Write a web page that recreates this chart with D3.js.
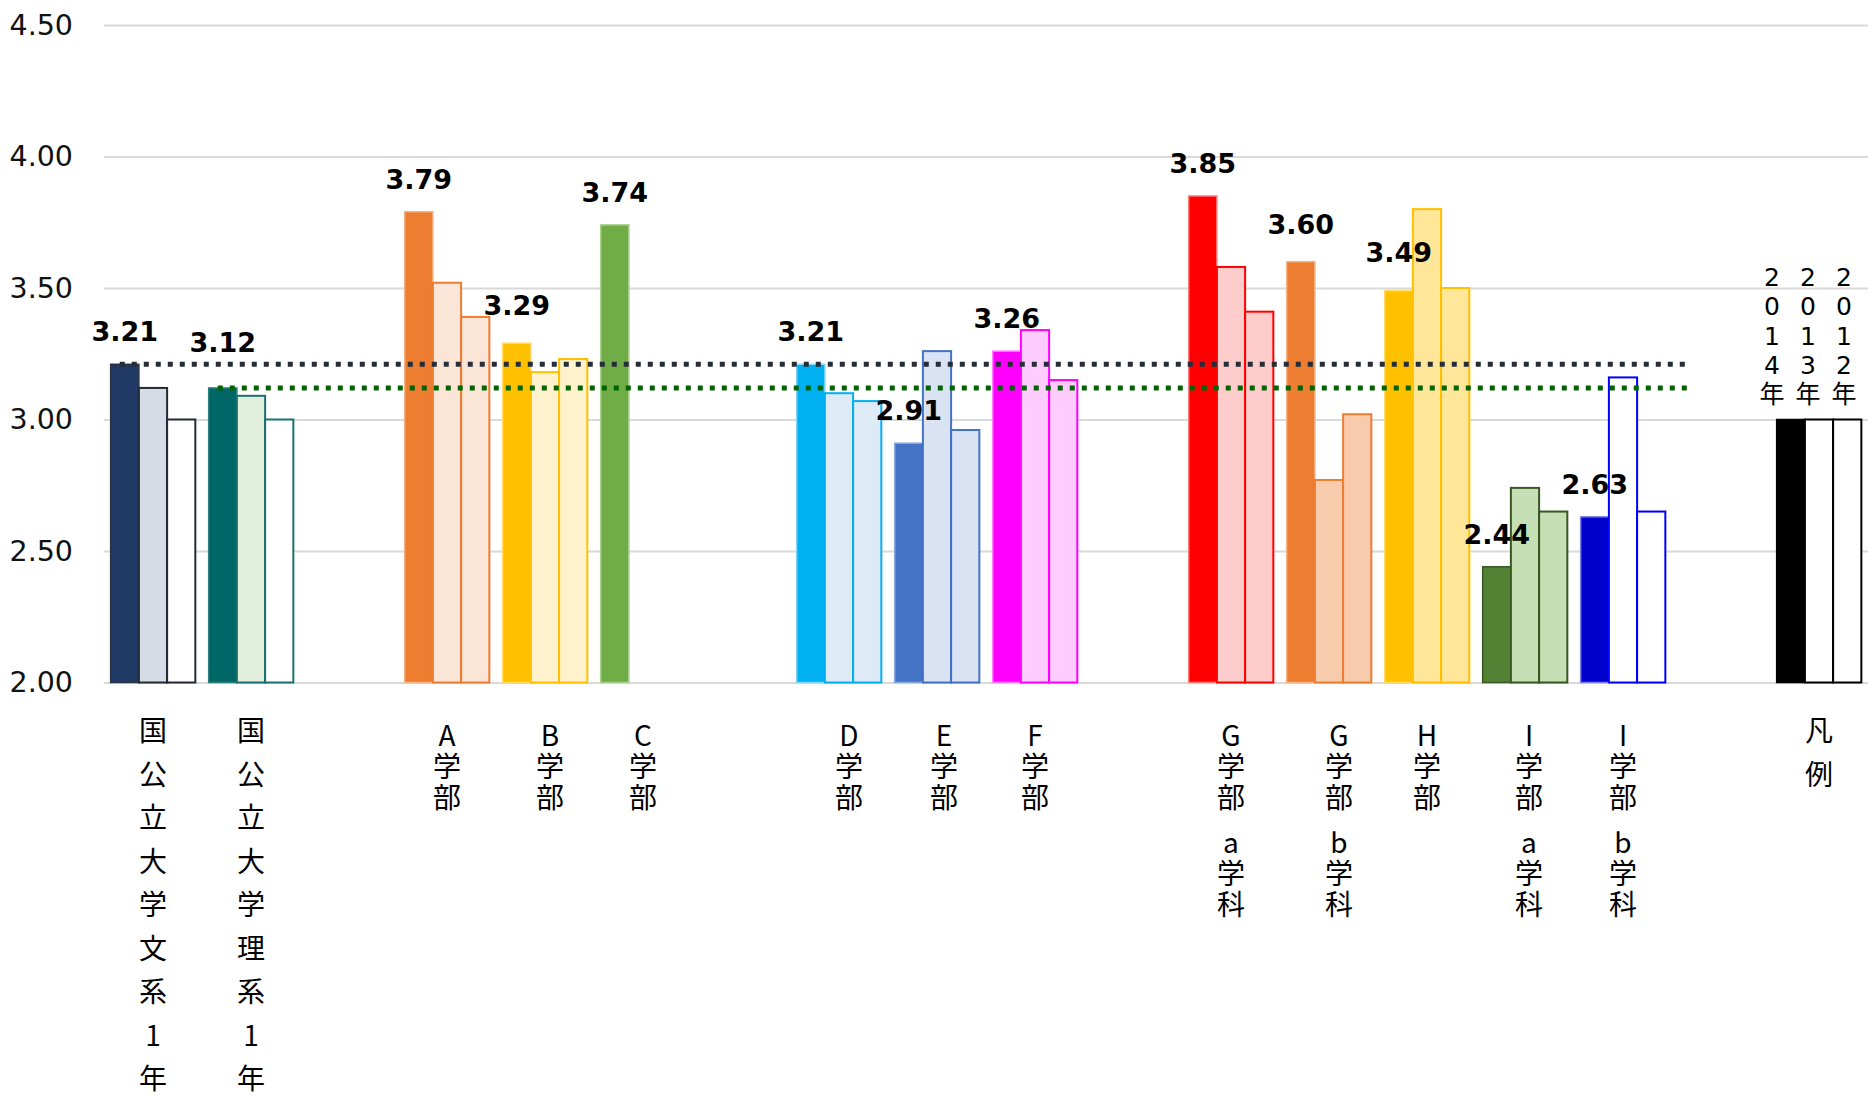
<!DOCTYPE html>
<html lang="ja">
<head>
<meta charset="utf-8">
<script src="https://cdn.jsdelivr.net/npm/d3@7"></script>
<style>
  html, body { margin: 0; padding: 0; background: #ffffff; }
  svg { display: block; }
</style>
</head>
<body>
<svg id="chart" width="1874" height="1102"></svg>
<script>
// Faculty categories along the x axis ("" = spacer slot between blocks)
const categories = [
  "国公立大学文系1年", "国公立大学理系1年", "",
  "A学部", "B学部", "C学部", "",
  "D学部", "E学部", "F学部", "",
  "G学部\na学科", "G学部\nb学科", "H学部", "I学部\na学科", "I学部\nb学科", "",
  "凡例"
];

// Yearly scores per category (null = no bar)
const scores2014 = [3.21, 3.12, null, 3.79, 3.29, 3.74, null, 3.21, 2.91, 3.26, null, 3.85, 3.60, 3.49, 2.44, 2.63, null, 3.00];
const scores2013 = [3.12, 3.09, null, 3.52, 3.18, null, null, 3.10, 3.26, 3.34, null, 3.58, 2.77, 3.80, 2.74, 3.16, null, 3.00];
const scores2012 = [3.00, 3.00, null, 3.39, 3.23, null, null, 3.07, 2.96, 3.15, null, 3.41, 3.02, 3.50, 2.65, 2.65, null, 3.00];

const seriesYears = ["2014年", "2013年", "2012年"];
const yTicks = [2.00, 2.50, 3.00, 3.50, 4.00, 4.50];

// Colour scheme per category: fills for 2014 / 2013 / 2012 and outline colours
const palette = [
  { fill: ["#1F3864", "#D6DCE5", "#FFFFFF"], line: "#222A35", edge: "#2B3445" },
  { fill: ["#006666", "#E2EFDA", "#FFFFFF"], line: "#1B7070", edge: "#2E8080" },
  null,
  { fill: ["#ED7D31", "#FBE5D6", "#FBE5D6"], line: "#ED7D31", edge: "#F4B183" },
  { fill: ["#FFC000", "#FFF2CC", "#FFF2CC"], line: "#FFC000", edge: "#FFD966" },
  { fill: ["#70AD47", null, null], line: "#70AD47", edge: "#A9D18E" },
  null,
  { fill: ["#00B0F0", "#DEEBF7", "#DEEBF7"], line: "#00B0F0", edge: "#7FD7F7" },
  { fill: ["#4472C4", "#DAE3F3", "#DAE3F3"], line: "#4472C4", edge: "#8FAADC" },
  { fill: ["#FF00FF", "#FFCCFF", "#FFCCFF"], line: "#FF00FF", edge: "#FF7FFF" },
  null,
  { fill: ["#FF0000", "#FFCCCC", "#FFCCCC"], line: "#FF0000", edge: "#FF7F7F" },
  { fill: ["#ED7D31", "#F8CBAD", "#F8CBAD"], line: "#ED7D31", edge: "#F4B183" },
  { fill: ["#FFC000", "#FFE699", "#FFE699"], line: "#FFC000", edge: "#FFD966" },
  { fill: ["#548235", "#C5E0B4", "#C5E0B4"], line: "#385723", edge: "#385723" },
  { fill: ["#0000CC", "#FFFFFF", "#FFFFFF"], line: "#0000FF", edge: "#7F7FE5" },
  null,
  { fill: ["#000000", "#FFFFFF", "#FFFFFF"], line: "#000000", edge: "#000000" }
];

const svg = d3.select("#chart");
const plot = { left: 104, right: 1868, top: 25, bottom: 682.5 };

const x0 = d3.scaleBand()
  .domain(d3.range(categories.length))
  .range([plot.left, plot.right])
  .paddingInner(0).paddingOuter(0);

const x1 = d3.scaleBand()
  .domain([0, 1, 2])
  .range([0, x0.bandwidth()])
  .paddingInner(0).paddingOuter(0.236);

const y = d3.scaleLinear().domain([2, 4.5]).range([plot.bottom, plot.top]);

// Gridlines and y tick labels
const yAxis = d3.axisLeft(y)
  .tickValues(yTicks)
  .tickFormat(d3.format(".2f"))
  .tickSize(-(plot.right - plot.left))
  .tickPadding(31);

const gy = svg.append("g")
  .attr("transform", `translate(${plot.left},0)`)
  .call(yAxis);
gy.select(".domain").remove();
gy.selectAll(".tick line").attr("stroke", "#D9D9D9").attr("stroke-width", 2);
gy.selectAll(".tick text")
  .attr("fill", "#111")
  .style("font-family", "'DejaVu Sans', Verdana, sans-serif")
  .style("font-size", "28.5px");

// Bars: one record per (category, year)
const allSeries = [scores2014, scores2013, scores2012];
const barData = [];
categories.forEach((c, i) => {
  allSeries.forEach((s, k) => {
    if (s[i] != null && palette[i]) barData.push({ i, k, v: s[i] });
  });
});

svg.append("g").selectAll("rect")
  .data(barData)
  .join("rect")
  .attr("x", d => x0(d.i) + x1(d.k))
  .attr("width", x1.bandwidth())
  .attr("y", d => y(d.v))
  .attr("height", d => y(2) - y(d.v))
  .attr("fill", d => palette[d.i].fill[d.k])
  .attr("stroke", d => d.k === 0 ? palette[d.i].edge : palette[d.i].line)
  .attr("stroke-width", d => d.k === 0 ? 1.5 : 2);

// National-average reference lines (2014) drawn across the faculties
const lastRefSlot = 16;
const refs = [
  { from: 0, value: scores2014[0], color: "#262D38" },
  { from: 1, value: scores2014[1], color: "#006400" }
];
refs.forEach(r => {
  const idx = d3.range(r.from, lastRefSlot + 1);
  svg.append("path")
    .attr("d", d3.line()
      .x(i => x0(i) + x1(0) + x1.bandwidth() / 2 - 5)
      .y(() => y(r.value))(idx))
    .attr("fill", "none")
    .attr("stroke", r.color)
    .attr("stroke-width", 5)
    .attr("stroke-dasharray", "5 7");
});

// 2014 value labels above the first bar of each group
const labelLift = { 1: 36, 4: 28, 12: 28, 13: 29 };
svg.append("g").selectAll("text")
  .data(scores2014.map((v, i) => ({ v, i })).filter(d => d.v != null && categories[d.i] !== "凡例"))
  .join("text")
  .attr("x", d => x0(d.i) + x1(0) + x1.bandwidth() / 2)
  .attr("y", d => y(d.v) - (labelLift[d.i] || 23))
  .attr("text-anchor", "middle")
  .attr("fill", "#000")
  .style("font-family", "'DejaVu Sans', Verdana, sans-serif")
  .style("font-weight", "bold")
  .style("font-size", "27px")
  .text(d => d3.format(".2f")(d.v));

// Category labels: long names one character per line with wide spacing,
// faculty names as upright vertical text
const labelShift = { 4: 5, 7: 10, 8: 7, 12: 10, 14: 4 };
const catG = svg.append("g")
  .style("font-family", "'Noto Sans CJK JP', sans-serif")
  .attr("fill", "#000");

categories.forEach((label, i) => {
  if (!label) return;
  const cx = x0(i) + x0.bandwidth() / 2 + (labelShift[i] || 0);
  const wide = (!label.includes("\n") && label.length > 6) || label === "凡例";
  if (wide) {
    let yy = 741;
    Array.from(label).forEach(ch => {
      catG.append("text")
        .attr("x", cx)
        .attr("y", yy)
        .attr("text-anchor", "middle")
        .style("font-size", "28px")
        .text(ch);
      yy += 43.5;
    });
    return;
  }
  let top = 721;
  label.split("\n").forEach((part, p) => {
    catG.append("text")
      .attr("x", cx)
      .attr("y", top)
      .attr("text-anchor", "start")
      .style("writing-mode", "vertical-rl")
      .style("text-orientation", "upright")
      .style("letter-spacing", "3px")
      .style("font-size", "28px")
      .text(part);
    top += Array.from(part).length * 31 + 14;
  });
});

// Year captions over the legend bars
const legendIdx = categories.indexOf("凡例");
const yearG = svg.append("g")
  .style("font-family", "'DejaVu Sans', 'Noto Sans CJK JP', sans-serif")
  .style("font-size", "25px")
  .attr("fill", "#000")
  .attr("text-anchor", "middle");
seriesYears.forEach((yr, k) => {
  const cx = x0(legendIdx) + 2 + k * 36;
  Array.from(yr).forEach((ch, j) => {
    yearG.append("text")
      .attr("x", cx)
      .attr("y", 286 + j * 29.3)
      .text(ch);
  });
});
</script>
</body>
</html>
